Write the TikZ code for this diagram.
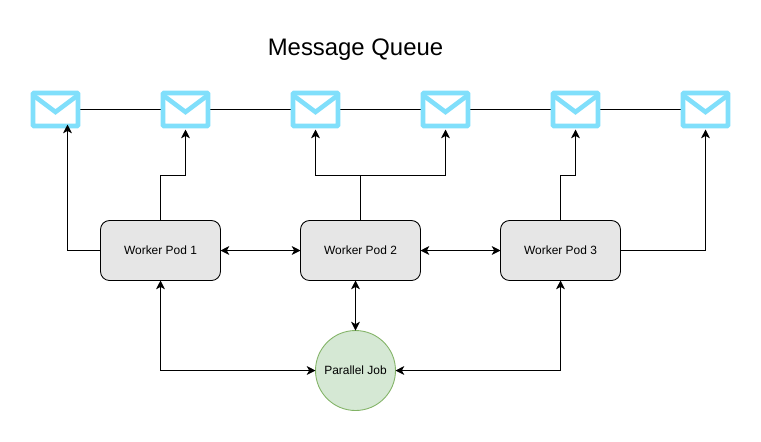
\documentclass[tikz,border=0pt]{standalone}
\usepackage{fontspec}
\setmainfont{Liberation Sans}
\usetikzlibrary{arrows.meta}
\definecolor{mailblue}{HTML}{80DFFB}
\definecolor{podgray}{HTML}{E6E6E6}
\definecolor{jobgreen}{HTML}{D5E8D4}
\definecolor{jobedge}{HTML}{82B366}
\tikzset{
    link/.style={line width=0.5pt, -{Stealth[length=5pt, width=5pt, inset=1.4pt]}},
    duplex/.style={link, {Stealth[length=5pt, width=5pt, inset=1.4pt]}-{Stealth[length=5pt, width=5pt, inset=1.4pt]}},
    mail/.style={draw=mailblue, fill=white, line width=2.6pt, rounded corners=0.5pt, minimum width=0.9cm, minimum height=0.66cm, inner sep=0pt, outer sep=0pt},
    mailflap/.style={draw=mailblue, line width=2.6pt},
    pod/.style={draw=black, fill=podgray, line width=0.5pt, rounded corners=0.18cm, minimum width=2.4cm, minimum height=1.2cm, font=\fontsize{6.8pt}{8pt}\selectfont, outer sep=0pt},
    job/.style={draw=jobedge, fill=jobgreen, line width=0.5pt, circle, minimum size=1.6cm, inner sep=0pt, font=\fontsize{6.8pt}{8pt}\selectfont, outer sep=0pt}
}
\begin{document}
\begin{tikzpicture}[x=0.02cm, y=-0.02cm]
    \useasboundingbox (-0.5,-0.5) rectangle (760.5,440.5);
    % Title
    \node[font=\fontsize{13.6pt}{16pt}\selectfont] (title) at (355,49) {Message Queue};
    % Queue line behind the envelopes
    \coordinate (queuestart) at (55,109);
    \coordinate (queueend) at (705,109);
    \draw[line width=0.5pt] (queuestart) -- (queueend);
    % Envelopes
    \foreach \i/\x in {1/55, 2/185, 3/315, 4/445, 5/575, 6/705} {
        \node[mail] (mail\i) at (\x,109) {};
        \draw[mailflap] ({\x-22},95) -- (\x,111.5) -- ({\x+22},95);
    }
    % Worker pods and the job
    \node[pod] (pod1) at (160,250) {Worker Pod 1};
    \node[pod] (pod2) at (360,250) {Worker Pod 2};
    \node[pod] (pod3) at (560,250) {Worker Pod 3};
    \node[job] (job) at (355,370) {Parallel Job};
    % Free ends under the envelopes
    \coordinate (tip1) at (67,124);
    \coordinate (tip2) at (185,129);
    \coordinate (tip3) at (315,129);
    \coordinate (tip4) at (445,129);
    \coordinate (tip5) at (575,129);
    \coordinate (tip6) at (705,129);
    \coordinate (turn1) at (185,175);
    \coordinate (turn2) at (360,175);
    \coordinate (turn3) at (575,175);
    % Pods up to the queue
    \draw[link] (pod1.west) -| (tip1);
    \draw[link] (pod1.north) |- (turn1) -- (tip2);
    \draw[link] (pod2.north) -- (turn2) -| (tip3);
    \draw[link] (turn2) -| (tip4);
    \draw[link] (pod3.north) |- (turn3) -- (tip5);
    \draw[link] (pod3.east) -| (tip6);
    % Pods with each other
    \draw[duplex] (pod1.east) -- (pod2.west);
    \draw[duplex] (pod2.east) -- (pod3.west);
    % Pods with the job
    \draw[duplex] (pod1.south) |- (job.west);
    \draw[duplex] (job.north |- pod2.south) -- (job.north);
    \draw[duplex] (pod3.south) |- (job.east);
\end{tikzpicture}
\end{document}
